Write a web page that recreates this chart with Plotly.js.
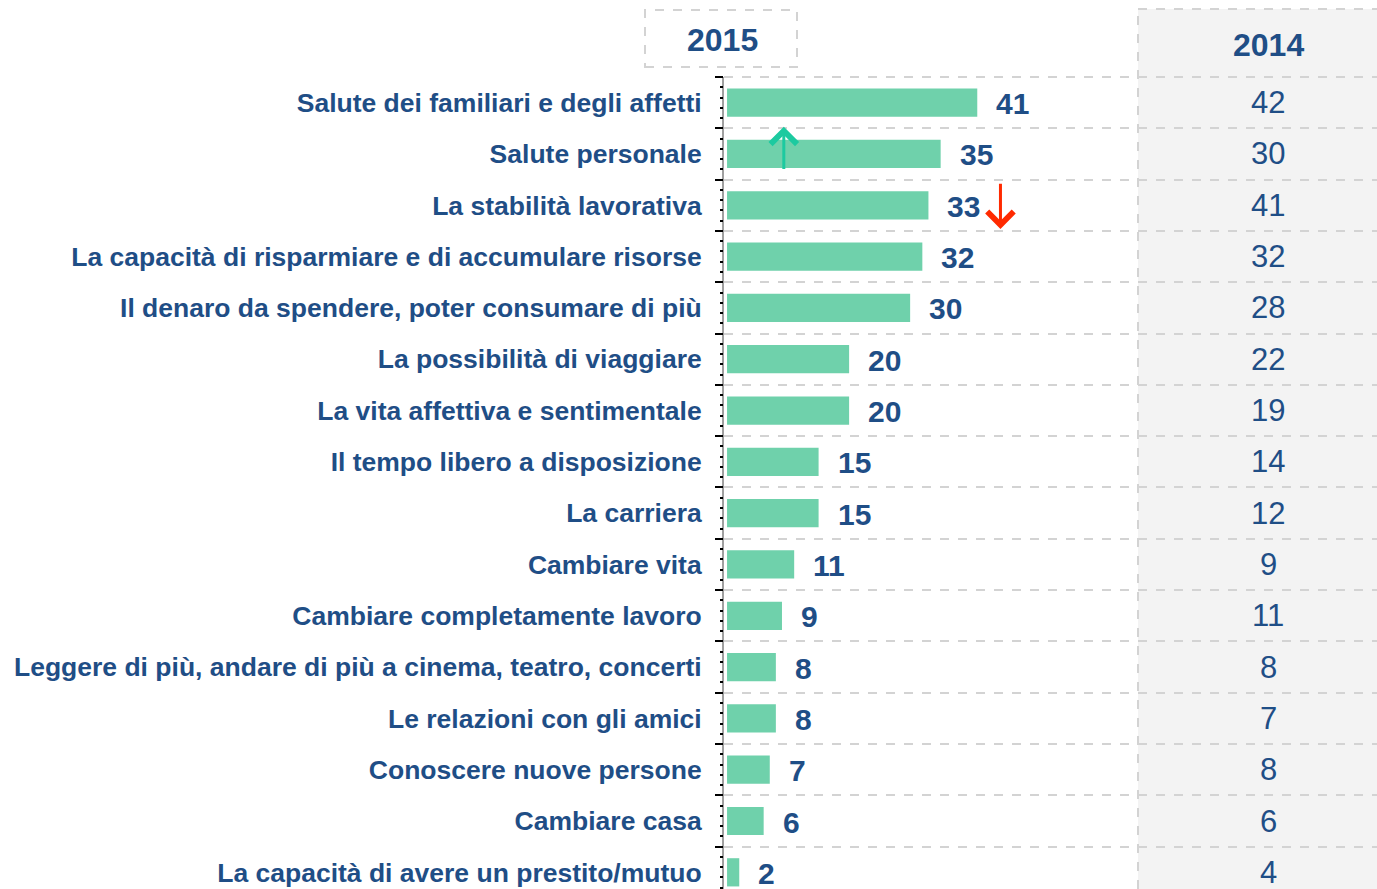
<!DOCTYPE html>
<html><head><meta charset="utf-8">
<script src="https://cdn.plot.ly/plotly-3.0.1.min.js"></script>
<style>html,body{margin:0;padding:0;background:#fff;}#chart{width:1377px;height:889px;}</style>
</head><body><div id="chart"></div>
<script>
const categories = [
  "Salute dei familiari e degli affetti",
  "Salute personale",
  "La stabilità lavorativa",
  "La capacità di risparmiare e di accumulare risorse",
  "Il denaro da spendere, poter consumare di più",
  "La possibilità di viaggiare",
  "La vita affettiva e sentimentale",
  "Il tempo libero a disposizione",
  "La carriera",
  "Cambiare vita",
  "Cambiare completamente lavoro",
  "Leggere di più, andare di più a cinema, teatro, concerti",
  "Le relazioni con gli amici",
  "Conoscere nuove persone",
  "Cambiare casa",
  "La capacità di avere un prestito/mutuo"
];
const values2015 = [41, 35, 33, 32, 30, 20, 20, 15, 15, 11, 9, 8, 8, 7, 6, 2];
const values2014 = [42, 30, 41, 32, 28, 22, 19, 14, 12, 9, 11, 8, 7, 8, 6, 4];
const yearLabels = ["2015", "2014"];

const BLUE = "#1f4e86";
const GRID = "#d3d3d3";
const FONT = "'Liberation Sans', Arial, sans-serif";

const traces = [
  {
    type: "bar", orientation: "h",
    x: values2015, y: categories,
    marker: {color: "#6fd1ab"},
    width: 0.55, hoverinfo: "skip"
  },
  {
    type: "scatter", mode: "markers", x: [0], y: [0], yaxis: "y2",
    marker: {opacity: 0}, hoverinfo: "skip", showlegend: false
  }
];

const annotations = [];
values2015.forEach((v, i) => {
  annotations.push({
    x: v, y: categories[i], xref: "x", yref: "y",
    text: String(v), showarrow: false, xanchor: "left", xshift: 17, yshift: -1,
    font: {family: FONT, size: 30, color: BLUE, weight: "bold"}
  });
});
values2014.forEach((v, i) => {
  annotations.push({
    x: 88.7, y: categories[i], xref: "x", yref: "y",
    text: String(v), showarrow: false, xanchor: "center", yshift: 0, borderpad: 0,
    font: {family: FONT, size: 31, color: BLUE}
  });
});
annotations.push({
  x: -0.003, y: 1.046, xref: "paper", yref: "paper", text: yearLabels[0],
  showarrow: false, xanchor: "center", yanchor: "middle",
  font: {family: FONT, size: 32, color: BLUE, weight: "bold"}
});
annotations.push({
  x: 0.834, y: 1.04, xref: "paper", yref: "paper", text: yearLabels[1],
  showarrow: false, xanchor: "center", yanchor: "middle",
  font: {family: FONT, size: 32, color: BLUE, weight: "bold"}
});
// change arrows
annotations.push({
  x: 9.3, y: 0.47, ax: 9.3, ay: 1.32, xref: "x", yref: "y", axref: "x", ayref: "y",
  text: "", showarrow: true, arrowhead: 4, arrowsize: 1.7, arrowwidth: 3, arrowcolor: "#1ccaa0"
});
annotations.push({
  x: 44.8, y: 2.46, ax: 44.8, ay: 1.55, xref: "x", yref: "y", axref: "x", ayref: "y",
  text: "", showarrow: true, arrowhead: 4, arrowsize: 1.7, arrowwidth: 3, arrowcolor: "#ff2a00"
});

const px0 = 1138, L = 724, W = 1377 - 724, T = 77, H = 889 - 77;
const xp = p => (p - L) / W;
const yp = p => (889 - p) / H;

const shapes = [
  {type: "rect", xref: "paper", yref: "paper", x0: xp(px0), x1: 1.0, y0: 0, y1: yp(9),
   fillcolor: "#f3f3f3", line: {width: 0}, layer: "below"},
  {type: "line", xref: "paper", yref: "paper", x0: xp(px0), x1: xp(px0), y0: 0, y1: yp(9),
   line: {color: GRID, width: 2, dash: "dash"}, layer: "below"},
  {type: "line", xref: "paper", yref: "paper", x0: xp(px0), x1: 1.0, y0: yp(9), y1: yp(9),
   line: {color: GRID, width: 2, dash: "dash"}, layer: "below"},
  {type: "line", xref: "paper", yref: "paper", x0: 0, x1: 1.0, y0: 1, y1: 1,
   line: {color: GRID, width: 2, dash: "dash"}, layer: "below"},
  {type: "rect", xref: "paper", yref: "paper", x0: xp(645), x1: xp(797), y0: yp(67), y1: yp(10),
   fillcolor: "rgba(0,0,0,0)", line: {color: GRID, width: 2, dash: "dash"}}
];

const yr = [15.325, -0.5];
const layout = {
  width: 1377, height: 889,
  margin: {l: 724, r: 0, t: 77, b: 0, pad: 0},
  paper_bgcolor: "#ffffff", plot_bgcolor: "rgba(0,0,0,0)",
  showlegend: false, bargap: 0.45,
  xaxis: {range: [-0.5, 106.5], showgrid: false, zeroline: false, showticklabels: false,
          ticks: "", showline: false, fixedrange: true},
  yaxis: {type: "category", range: yr, tickson: "boundaries", ticks: "outside",
          ticklen: 7, tickwidth: 2, tickcolor: "#000", showgrid: true, gridcolor: GRID,
          gridwidth: 2, griddash: "dash", showline: true, linecolor: "#a0a0a0", linewidth: 2,
          ticklabelstandoff: 15,
          tickfont: {family: FONT, size: 26.5, color: BLUE, weight: "bold"}, fixedrange: true},
  yaxis2: {overlaying: "y", side: "left", anchor: "x", range: yr, tick0: -0.5, dtick: 0.2,
           ticks: "outside", ticklen: 3, tickwidth: 2, tickcolor: "#000",
           showticklabels: false, showgrid: false, zeroline: false, showline: false, fixedrange: true},
  annotations: annotations,
  shapes: shapes
};

Plotly.newPlot("chart", traces, layout, {displayModeBar: false, staticPlot: true});
</script></body></html>
